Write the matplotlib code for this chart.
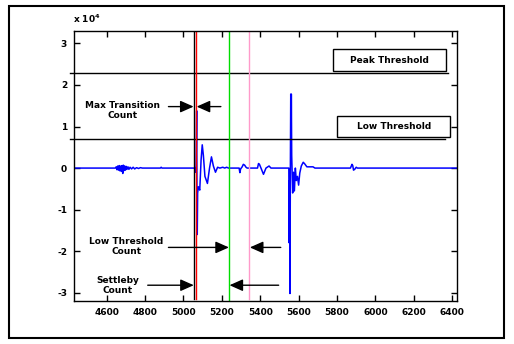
import matplotlib
matplotlib.use('Agg')
import matplotlib.pyplot as plt
from matplotlib.patches import Rectangle

# --- data (y values in units of 1e4) ---
SIG_X = [4430, 4645, 4650, 4654, 4658, 4662, 4666, 4670, 4674, 4678, 4681, 4684, 4687, 4690,
         4694, 4698, 4702, 4706, 4711, 4716, 4722, 4730, 4738, 4746, 4756, 4766, 4776, 4786,
         4880, 4884, 4888,
         5050, 5058, 5062, 5066, 5069, 5071, 5072, 5074, 5078, 5085, 5092, 5098, 5104, 5112,
         5125, 5136, 5146, 5156, 5167, 5178, 5190, 5205, 5215, 5225, 5235,
         5290, 5294, 5298, 5306, 5312, 5319, 5326, 5332,
         5386, 5391, 5396, 5404, 5417, 5430, 5446, 5456,
         5540, 5549, 5551, 5553, 5555, 5557, 5559, 5561, 5562, 5564, 5569, 5574, 5578, 5583,
         5588, 5594, 5600, 5606, 5614, 5624, 5632, 5643, 5660, 5675, 5685,
         5870, 5878, 5882, 5886, 5892, 5900, 5906, 6425]
SIG_Y = [0, 0, 0.03, -0.04, 0.05, -0.05, 0.06, -0.07, 0.05, -0.08, 0.06, -0.13, 0.07, -0.06,
         0.05, -0.05, 0.04, -0.03, 0.03, -0.03, 0.02, -0.02, 0.02, -0.02, 0.01, -0.01, 0.01, 0,
         0, 0.02, 0,
         0, 0, -0.1, 0.05, 1.38, -1.35, -1.6, -0.6, -0.45, -0.53, 0.2, 0.56, 0.3, -0.2,
         -0.37, 0.0, 0.27, 0.05, -0.1, 0.02, 0, 0.02, 0, 0.02, 0,
         0, -0.11, -0.02, 0.03, 0.09, 0.07, 0.02, 0,
         0, 0.11, 0.09, 0, -0.15, 0, 0.05, 0,
         0, 0, -1.8, -0.3, -3.02, 0, 1.78, 0.5, 1.78, 0.3, -0.6, -0.1, -0.55, 0.0,
         -0.3, -0.2, -0.41, -0.12, 0.05, 0.14, 0.1, 0.03, 0.03, 0.03, 0,
         0, 0.09, 0.06, -0.05, -0.03, 0.02, 0, 0]

PEAK_THRESHOLD = 2.3
LOW_THRESHOLD = 0.7
V_LINES = [5055, 5067, 5238, 5344]
V_COLORS = ['black', 'red', '#00dd00', '#ff9acb']

X_TICKS = [4600, 4800, 5000, 5200, 5400, 5600, 5800, 6000, 6200, 6400]
Y_TICKS = [-3, -2, -1, 0, 1, 2, 3]

FS = 6.5

fig = plt.figure(figsize=(5.14, 3.44), dpi=100)
ax = fig.add_axes([74/514, 1 - 301/344, (457-74)/514, (301-31)/344])

ax.plot(SIG_X, SIG_Y, color='#0000ff', lw=1.1)

# thresholds
ax.plot([4411, 6380], [PEAK_THRESHOLD]*2, color='k', lw=1, clip_on=False)
ax.plot([4411, 6365], [LOW_THRESHOLD]*2, color='k', lw=1, clip_on=False)

# vertical markers
for xv, c, y0 in zip(V_LINES, V_COLORS, [0.008, 0.008, 0.0, 0.008]):
    ax.axvline(xv, ymin=y0, ymax=1, color=c, lw=1)

ax.set_xlim(4430, 6425)
ax.set_ylim(-3.2, 3.3)
ax.set_xticks(X_TICKS)
ax.set_yticks(Y_TICKS)
ax.set_xticklabels([str(v) for v in X_TICKS], fontsize=FS, fontweight='bold')
ax.set_yticklabels([str(v) for v in Y_TICKS], fontsize=FS, fontweight='bold')
ax.tick_params(direction='in', top=True, right=True, length=4, width=1, pad=5)
for s in ax.spines.values():
    s.set_linewidth(1)

# threshold boxes
ax.add_patch(Rectangle((5780, 2.33), 590, 0.53, facecolor='white', edgecolor='k', lw=1, zorder=5))
ax.text(6075, 2.59, 'Peak Threshold', ha='center', va='center', fontsize=FS, fontweight='bold', zorder=6)
ax.add_patch(Rectangle((5801, 0.74), 590, 0.52, facecolor='white', edgecolor='k', lw=1, zorder=5))
ax.text(6096, 0.99, 'Low Threshold', ha='center', va='center', fontsize=FS, fontweight='bold', zorder=6)

# annotations
def arrow(tail, head):
    ax.annotate('', xy=head, xytext=tail,
                arrowprops=dict(arrowstyle='-|>,head_length=0.9,head_width=0.4', color='k',
                                lw=1, mutation_scale=9, shrinkA=0, shrinkB=0))

ax.text(4685, 1.38, 'Max Transition\nCount', ha='center', va='center', fontsize=FS,
        fontweight='bold', linespacing=1.1)
arrow((4922, 1.48), (5053, 1.48))
arrow((5195, 1.48), (5069, 1.48))

ax.text(4703, -1.89, 'Low Threshold\nCount', ha='center', va='center', fontsize=FS,
        fontweight='bold', linespacing=1.1)
arrow((4922, -1.91), (5237, -1.91))
arrow((5507, -1.91), (5346, -1.91))

ax.text(4656, -2.83, 'Settleby\nCount', ha='center', va='center', fontsize=FS,
        fontweight='bold', linespacing=1.1)
arrow((4814, -2.82), (5054, -2.82))
arrow((5496, -2.82), (5240, -2.82))

fig.text(73/514, 1 - 19/344, r'x 10$^{\mathbf{4}}$', fontsize=FS, fontweight='bold', va='center')

# outer frame
fig.patches.append(Rectangle((9/514, 1 - 338/344), 495/514, 332/344, transform=fig.transFigure,
                             fill=False, edgecolor='k', lw=1.5))

fig.savefig('out.png', dpi=100)
